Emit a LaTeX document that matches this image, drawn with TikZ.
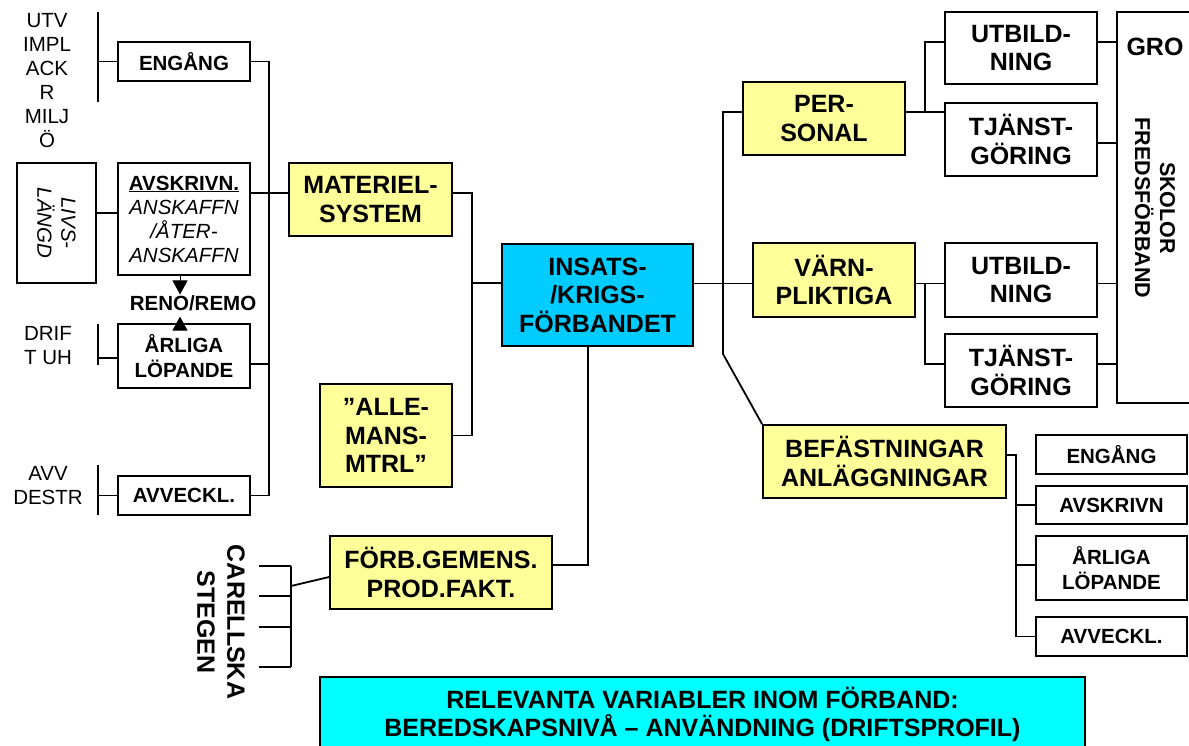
\documentclass[tikz,border=0pt]{standalone}
\usepackage{fontspec}
\setmainfont{Liberation Sans}
\usetikzlibrary{arrows.meta}
\definecolor{yellowbox}{RGB}{255,255,153}
\definecolor{unitblue}{RGB}{0,204,255}
\definecolor{notecyan}{RGB}{0,255,255}
\begin{document}
\begin{tikzpicture}[x=1pt,y=-1pt,line width=1.8pt,
  wbox/.style={draw,fill=white,inner sep=0pt,align=center},
  ybox/.style={wbox,fill=yellowbox},
  bigtxt/.style={font=\fontsize{25}{28.5}\selectfont\bfseries},
  smalltxt/.style={font=\fontsize{20.5}{24.5}\selectfont\bfseries},
  plaintxt/.style={font=\fontsize{20.5}{24}\selectfont,align=center,inner sep=0pt},
  tri/.style={-{Triangle[width=15pt,length=14pt]},line width=1pt}]
\useasboundingbox (0,0) rectangle (1189,745);
\clip (0,0) rectangle (1189,745);
\node[plaintxt] (utv) at (47,81) {UTV\\IMPL\\ACK\\R\\MILJ\\Ö};
\node[plaintxt] (drift) at (48,346) {DRIF\\T UH};
\node[plaintxt] (avv) at (48,486) {AVV\\DESTR};
\node[wbox,smalltxt,minimum width=132pt,minimum height=39pt] (engL) at (184,61.5) {ENGÅNG};
\node[wbox,minimum width=79pt,minimum height=120pt] (livs) at (56.5,223) {};
\node[plaintxt,rotate=-90,font=\fontsize{20.5}{24}\selectfont\itshape] (livstxt) at (livs) {LIVS-\\LÄNGD};
\node[wbox,minimum width=132pt,minimum height=112pt,font=\fontsize{20.5}{24}\selectfont] (avskr) at (184,219)
  {\textbf{\underline{AVSKRIVN.}}\\\textit{ANSKAFFN}\\\textit{/ÅTER-}\\\textit{ANSKAFFN}};
\node[smalltxt,inner sep=0pt] (reno) at (193,303) {RENO/REMO};
\node[wbox,smalltxt,minimum width=132pt,minimum height=64pt] (arlig) at (184,356) {ÅRLIGA\\LÖPANDE};
\node[wbox,smalltxt,minimum width=132pt,minimum height=39pt] (avveck) at (184,495.5) {AVVECKL.};
\node[ybox,bigtxt,minimum width=163pt,minimum height=73pt] (mat) at (370.5,199.5) {MATERIEL-\\SYSTEM};
\node[ybox,bigtxt,minimum width=132pt,minimum height=103pt] (alle) at (386,435.5) {”ALLE-\\MANS-\\MTRL”};
\node[wbox,bigtxt,fill=unitblue,minimum width=191pt,minimum height=102pt] (ins) at (597.5,295) {INSATS-\\/KRIGS-\\FÖRBANDET};
\node[ybox,bigtxt,minimum width=222pt,minimum height=73pt] (forb) at (441,572.5) {FÖRB.GEMENS.\\PROD.FAKT.};
\node[bigtxt,rotate=-90,align=center,inner sep=0pt,font=\fontsize{25}{30}\selectfont\bfseries] (carel) at (221,622) {CARELLSKA\\STEGEN};
\node[wbox,bigtxt,fill=notecyan,minimum width=765pt,minimum height=75pt] (note) at (702.5,714.5)
  {RELEVANTA VARIABLER INOM FÖRBAND:\\BEREDSKAPSNIVÅ – ANVÄNDNING (DRIFTSPROFIL)};
\node[ybox,bigtxt,minimum width=162pt,minimum height=73pt] (per) at (824,118.5) {PER-\\SONAL};
\node[ybox,bigtxt,minimum width=162pt,minimum height=74pt] (varn) at (834,280) {VÄRN-\\PLIKTIGA};
\node[ybox,bigtxt,minimum width=243pt,minimum height=73pt] (bef) at (884.5,461.5) {BEFÄSTNINGAR\\ANLÄGGNINGAR};
\node[wbox,bigtxt,minimum width=152pt,minimum height=72pt] (utb1) at (1021,48) {UTBILD-\\NING};
\node[wbox,bigtxt,minimum width=152pt,minimum height=73pt] (tj1) at (1021,139.5) {TJÄNST-\\GÖRING};
\node[wbox,bigtxt,minimum width=152pt,minimum height=74pt] (utb2) at (1021,280) {UTBILD-\\NING};
\node[wbox,bigtxt,minimum width=152pt,minimum height=73pt] (tj2) at (1021,370.5) {TJÄNST-\\GÖRING};
\node[wbox,minimum width=103pt,minimum height=391pt] (skol) at (1168.5,207.5) {};
\node[bigtxt,inner sep=0pt] (gro) at (1155,47) {GRO};
\node[rotate=-90,align=center,inner sep=0pt,font=\fontsize{21.5}{25}\selectfont\bfseries] (skolor) at (1155,208) {SKOLOR\\FREDSFÖRBAND};
\node[wbox,smalltxt,minimum width=151pt,minimum height=39pt] (eng2) at (1111.5,454.5) {ENGÅNG};
\node[wbox,smalltxt,minimum width=151pt,minimum height=38pt] (avs2) at (1111.5,505) {AVSKRIVN};
\node[wbox,smalltxt,minimum width=151pt,minimum height=64pt] (arl2) at (1111.5,568) {ÅRLIGA\\LÖPANDE};
\node[wbox,smalltxt,minimum width=151pt,minimum height=39pt] (avv2) at (1111.5,636.5) {AVVECKL.};
\coordinate (b1t) at (98,12); \coordinate (b1b) at (98,102);
\coordinate (b2t) at (98,324); \coordinate (b2b) at (98,365);
\coordinate (b3t) at (98,465); \coordinate (b3b) at (98,515);
\coordinate (busL) at (269,0);
\coordinate (busM) at (472,0);
\coordinate (brk) at (291,586);
\coordinate (spb) at (723,354);
\coordinate (brP) at (925,0);
\coordinate (brB) at (1016,0);
\draw (b1t) -- (b1b) (b2t) -- (b2b) (b3t) -- (b3b);
\draw (engL.west -| b1t) -- (engL.west);
\draw ([yshift=-2pt]arlig.west -| b2t) -- ([yshift=-2pt]arlig.west);
\draw (avveck.west -| b3t) -- (avveck.west);
\draw (engL.east) -- (engL.east -| busL) -- (avveck.east -| busL) -- (avveck.east);
\draw ([yshift=-8pt]arlig.east) -- ([yshift=-8pt]arlig.east -| busL);
\draw ([yshift=10pt]livs.east) -- ([yshift=6pt]avskr.west);
\draw ([yshift=26pt]avskr.east) -- ([yshift=6.5pt]mat.west);
\draw[tri] ([xshift=-4pt]avskr.south) -- ([xshift=-4pt]avskr.south |- reno.north);
\draw[tri,shorten >=5pt] ([xshift=-4pt]arlig.north) -- ([xshift=-4pt]arlig.north |- reno.south);
\draw ([yshift=6.5pt]mat.east) -- ([yshift=6.5pt]mat.east -| busM) -- (alle.east -| busM) -- (alle.east);
\draw ([yshift=12pt]ins.west -| busM) -- ([yshift=12pt]ins.west);
\draw ([xshift=-9.5pt]ins.south) |- ([yshift=7.5pt]forb.east);
\draw ([yshift=-4.5pt]forb.west) -- (brk);
\draw (291,566) -- (291,667);
\foreach \y in {566,596,627,667} \draw (259,\y) -- (291,\y);
\draw ([yshift=11.5pt]ins.east) -- ([yshift=-3.5pt]varn.west);
\draw ([yshift=6.5pt]per.west) -| (spb) -- (bef.north west);
\draw ([yshift=6.5pt]per.east) -- ([yshift=27.5pt]tj1.west);
\draw ([yshift=6.5pt]per.east -| brP) |- ([yshift=6pt]utb1.west);
\draw ([yshift=-3.5pt]varn.east) -- ([yshift=-3.5pt]utb2.west);
\draw ([yshift=-3.5pt]varn.east -| brP) |- ([yshift=6.5pt]tj2.west);
\draw ([yshift=6pt]utb1.east) -- ([yshift=6pt]utb1.east -| skol.west);
\draw ([yshift=-3.5pt]tj1.east) -- ([yshift=-3.5pt]tj1.east -| skol.west);
\draw ([yshift=-3.5pt]utb2.east) -- ([yshift=-3.5pt]utb2.east -| skol.west);
\draw ([yshift=6.5pt]tj2.east) -- ([yshift=6.5pt]tj2.east -| skol.west);
\draw ([yshift=6.5pt]bef.east) -- ([yshift=6.5pt]bef.east -| brB) |- (avv2.west);
\draw (avs2.west -| brB) -- (avs2.west);
\draw ([yshift=3pt]arl2.west -| brB) -- ([yshift=3pt]arl2.west);
\end{tikzpicture}
\end{document}
